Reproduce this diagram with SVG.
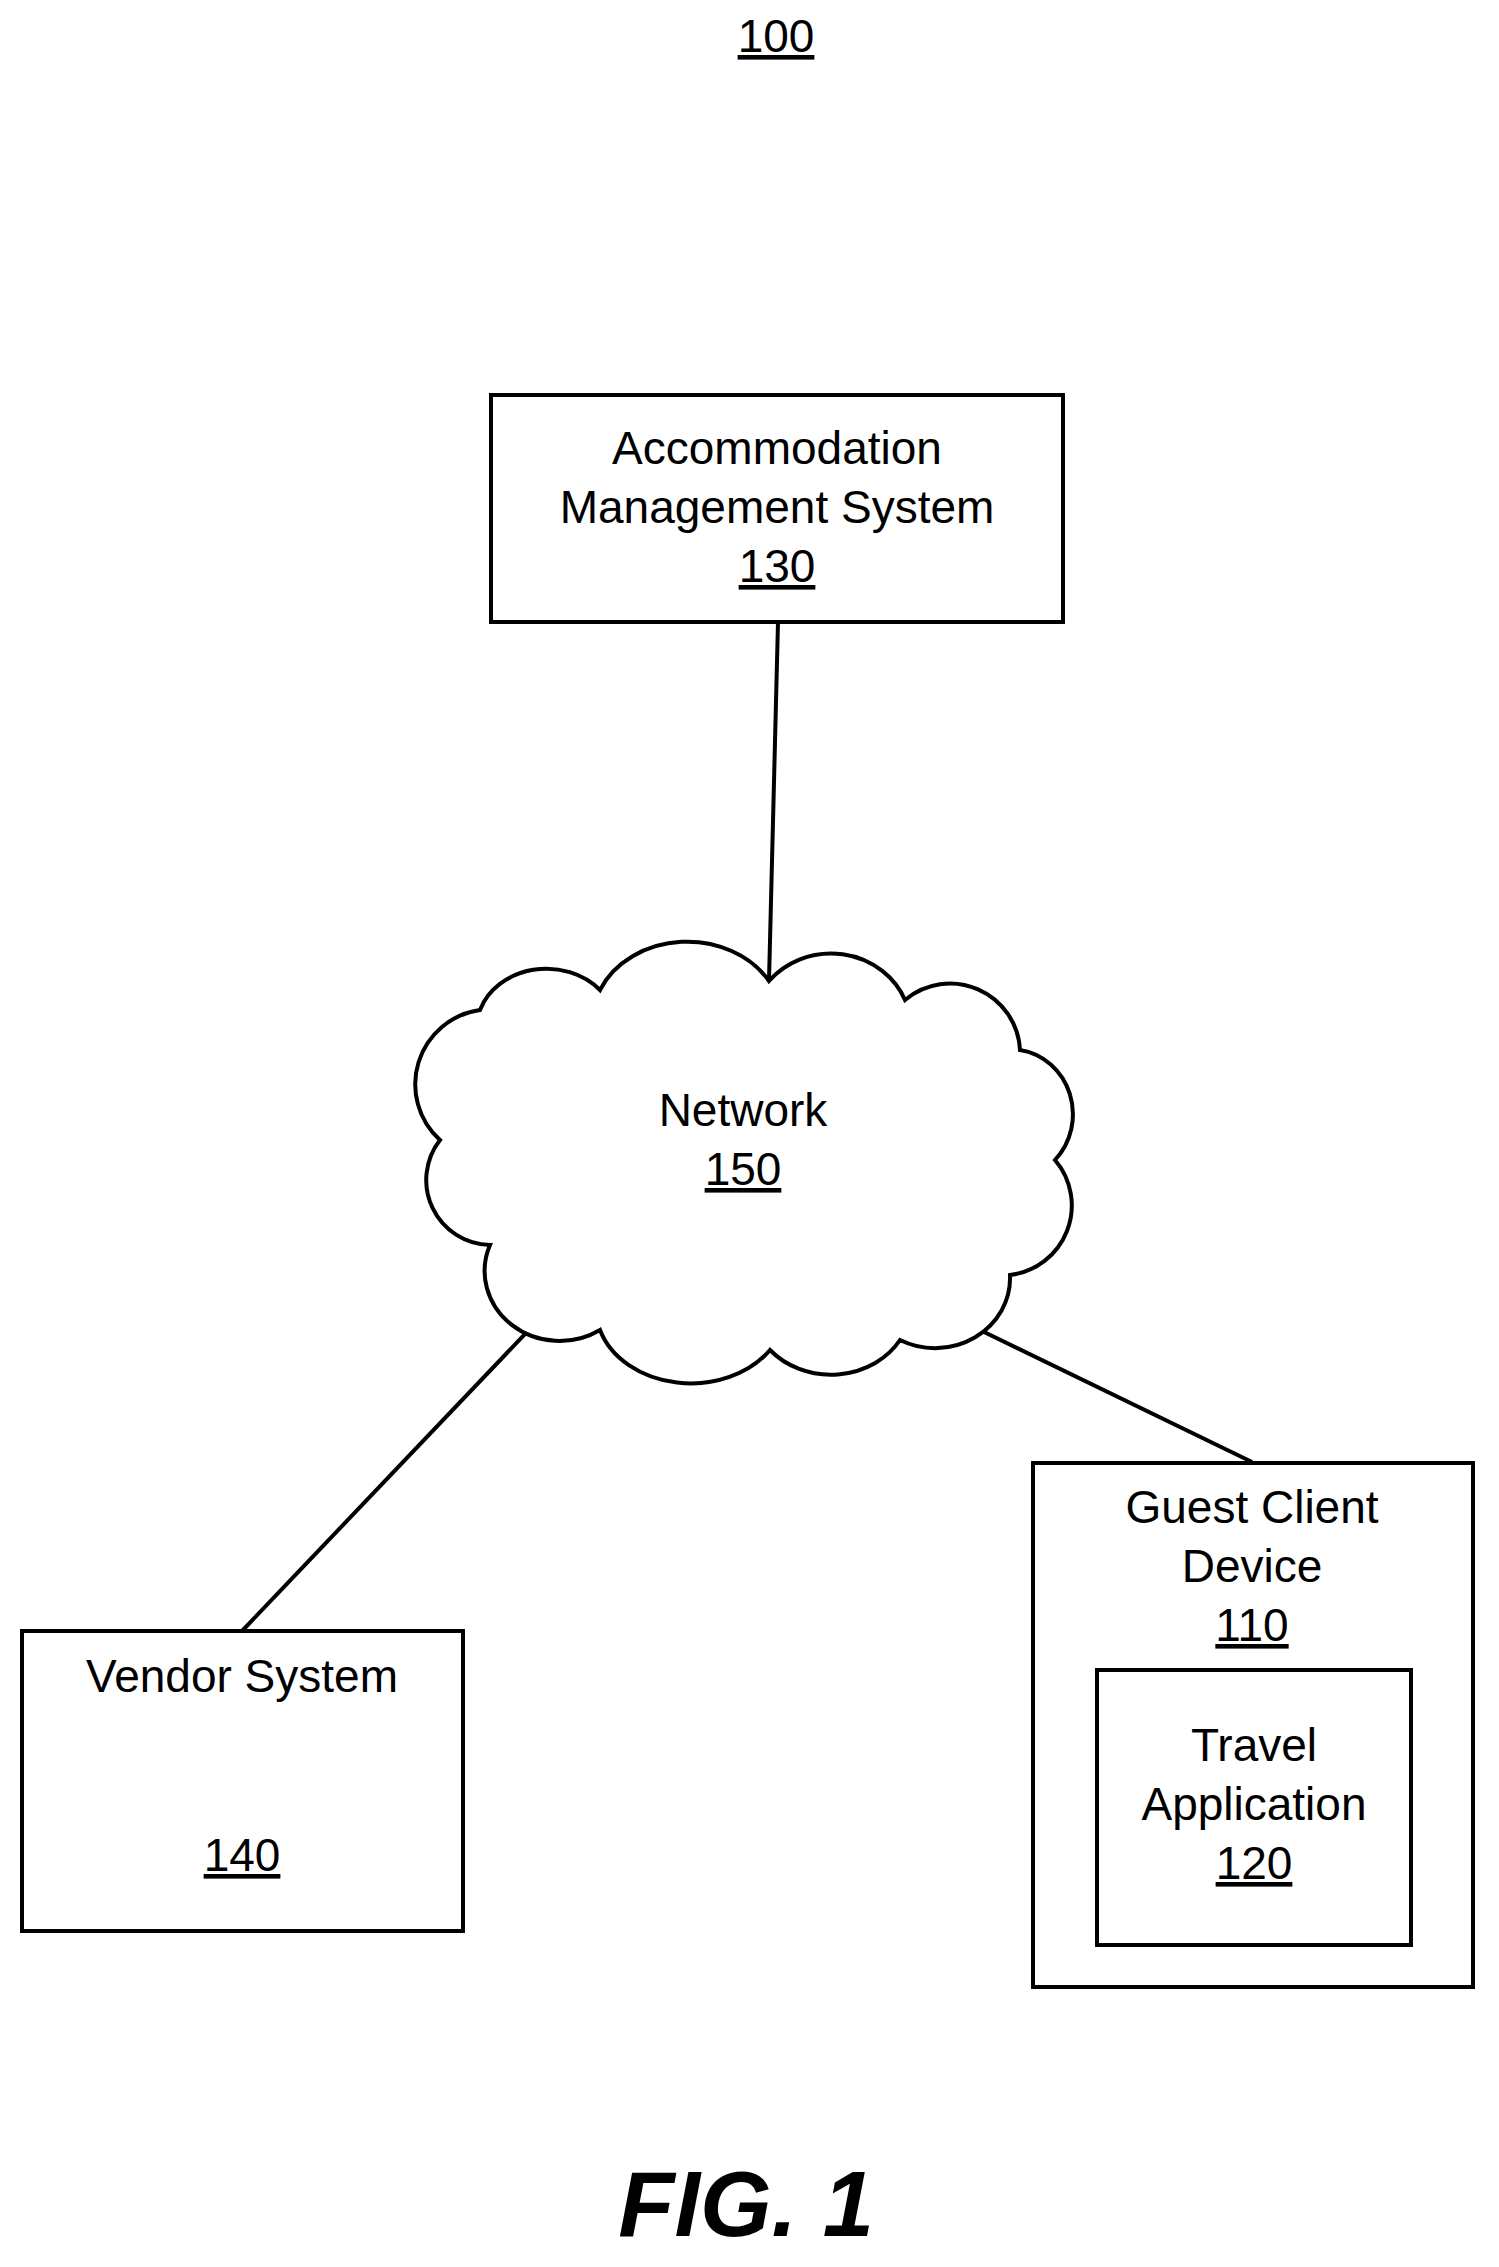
<svg xmlns="http://www.w3.org/2000/svg" width="1499" height="2267" viewBox="0 0 1499 2267">
<style>
.b{fill:#fff;stroke:#000;stroke-width:4}
.t{font-family:"Liberation Sans",Arial,sans-serif;font-size:46px;text-anchor:middle;fill:#000}
.u{text-decoration:underline}
.c{stroke:#000;stroke-width:4;fill:none}
</style>
<rect width="1499" height="2267" fill="#fff"/>
<text class="t u" x="776" y="52">100</text>
<g id="connectors">
<line class="c" x1="778" y1="622" x2="769" y2="981"/>
<line class="c" x1="545" y1="1313" x2="242" y2="1631"/>
<line class="c" x1="945" y1="1313" x2="1252" y2="1462"/>
</g>
<g id="n130">
<rect class="b" x="491" y="395" width="572" height="227"/>
<text class="t" x="777" y="464">Accommodation</text>
<text class="t" x="777" y="523">Management System</text>
<text class="t u" x="777" y="582">130</text>
</g>
<g id="n150">
<path class="b" d="M769,981 A80,75 0 0 1 905,1000 A70,70 0 0 1 1020,1050 A62,65 0 0 1 1055,1160 A70,70 0 0 1 1010,1275 A75,70 0 0 1 900,1340 A80,70 0 0 1 770,1350 A95,75 0 0 1 600,1330 A75,70 0 0 1 490,1245 A65,65 0 0 1 440,1140 A75,75 0 0 1 480,1010 A70,60 0 0 1 600,990 A95,80 0 0 1 769,981 Z"/>
<text class="t" x="743" y="1126">Network</text>
<text class="t u" x="743" y="1185">150</text>
</g>
<g id="n140">
<rect class="b" x="22" y="1631" width="441" height="300"/>
<text class="t" x="242" y="1692">Vendor System</text>
<text class="t u" x="242" y="1871">140</text>
</g>
<g id="n110">
<rect class="b" x="1033" y="1463" width="440" height="524"/>
<text class="t" x="1252" y="1523">Guest Client</text>
<text class="t" x="1252" y="1582">Device</text>
<text class="t u" x="1252" y="1641">110</text>
</g>
<g id="n120">
<rect class="b" x="1097" y="1670" width="314" height="275"/>
<text class="t" x="1254" y="1761">Travel</text>
<text class="t" x="1254" y="1820">Application</text>
<text class="t u" x="1254" y="1879">120</text>
</g>
<text x="746" y="2236" style="font-family:'Liberation Sans',Arial,sans-serif;font-size:92px;font-weight:bold;font-style:italic;text-anchor:middle">FIG. 1</text>
</svg>
